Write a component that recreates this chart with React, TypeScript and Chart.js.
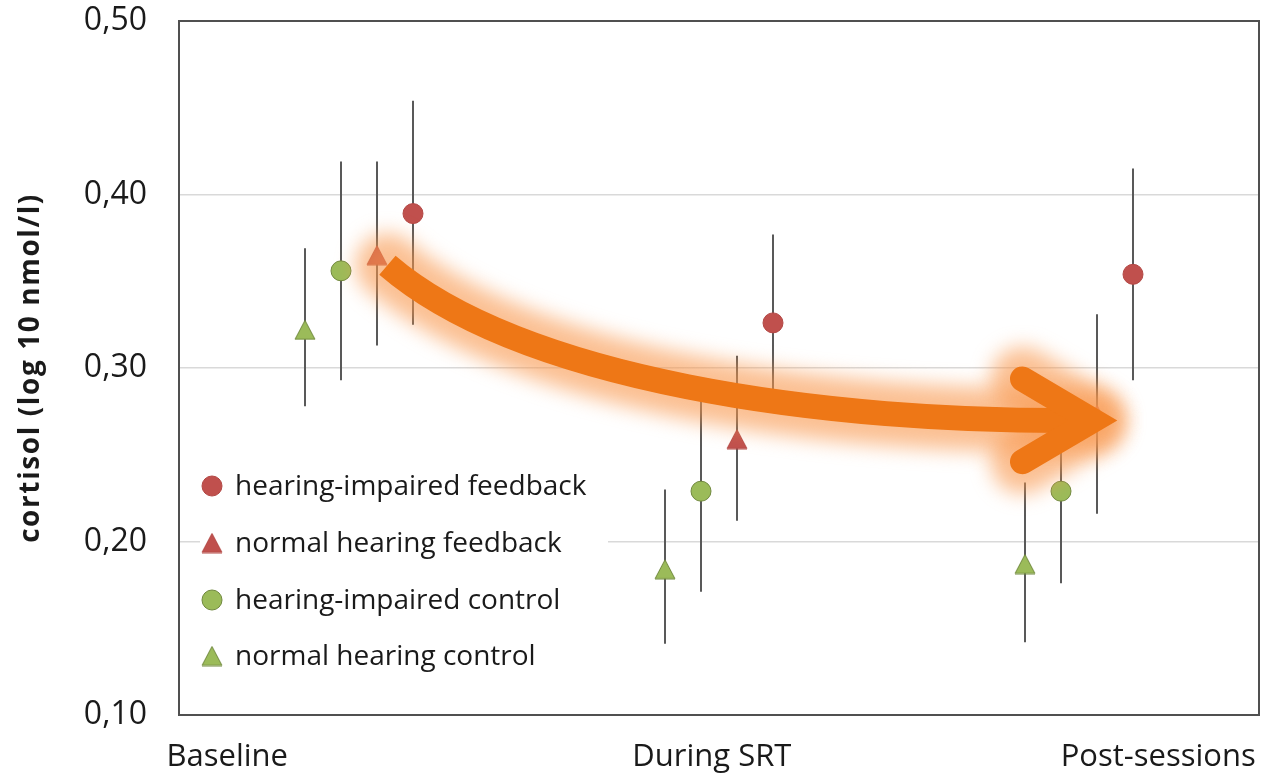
import React, { useEffect, useRef } from 'react';
import { Chart, registerables } from 'chart.js';

Chart.register(...registerables);

// ---------- data ----------
const categories = ['Baseline', 'During SRT', 'Post-sessions'];
const categoryLabelPos = [0.134, 1.48, 2.72];
const groupPos = [0.5, 1.5, 2.5];

const seriesLabels = [
  'hearing-impaired feedback',
  'normal hearing feedback',
  'hearing-impaired control',
  'normal hearing control',
];
const seriesOffset = [0.15, 0.05, -0.05, -0.15];

const hiFeedbackMean = [0.389, 0.326, 0.354];
const hiFeedbackLow = [0.325, 0.277, 0.293];
const hiFeedbackHigh = [0.454, 0.377, 0.415];

const nhFeedbackMean = [0.365, 0.259, 0.273];
const nhFeedbackLow = [0.313, 0.212, 0.216];
const nhFeedbackHigh = [0.419, 0.307, 0.331];

const hiControlMean = [0.356, 0.229, 0.229];
const hiControlLow = [0.293, 0.171, 0.176];
const hiControlHigh = [0.419, 0.287, 0.282];

const nhControlMean = [0.322, 0.184, 0.187];
const nhControlLow = [0.278, 0.141, 0.142];
const nhControlHigh = [0.369, 0.230, 0.234];

const yMin = 0.1;
const yMax = 0.5;
const yStep = 0.1;
const yTitle = 'cortisol (log 10 nmol/l)';

// annotation arrow (data units): cubic curve + chevron head
const arrowCurve = [
  [0.579, 0.3592],
  [0.946, 0.2937],
  [1.781, 0.2678],
  [2.538, 0.2698],
];
const arrowHead = [
  [2.343, 0.2937],
  [2.538, 0.2698],
  [2.343, 0.246],
];

const FONT = '"Open Sans", "Noto Sans", sans-serif';
const RED = '#C0504D';
const RED_BORDER = '#B34845';
const GREEN = '#9BBB59';
const GREEN_BORDER = '#71893F';

function makeTriangle(fill: string, stroke: string) {
  const c = document.createElement('canvas');
  c.width = 22;
  c.height = 21;
  const g = c.getContext('2d')!;
  g.beginPath();
  g.moveTo(11, 1);
  g.lineTo(21, 20);
  g.lineTo(1, 20);
  g.closePath();
  g.fillStyle = fill;
  g.fill();
  g.lineWidth = 1;
  g.strokeStyle = stroke;
  g.stroke();
  return c;
}

const boxPlugin = {
  id: 'plotBox',
  beforeDatasetsDraw(chart: any) {
    const { ctx, chartArea: a } = chart;
    ctx.save();
    ctx.strokeStyle = '#505050';
    ctx.lineWidth = 2;
    ctx.strokeRect(a.left, a.top, a.right - a.left, a.bottom - a.top);
    // spaced y-axis title
    ctx.translate(31, (a.top + a.bottom) / 2);
    ctx.rotate(-Math.PI / 2);
    ctx.font = `bold 28px ${FONT}`;
    (ctx as any).letterSpacing = '1.6px';
    ctx.fillStyle = '#1a1a1a';
    ctx.textAlign = 'center';
    ctx.textBaseline = 'middle';
    ctx.fillText(yTitle, 0, 0);
    ctx.restore();
  },
};

const errorBarPlugin = {
  id: 'errorBars',
  beforeDatasetsDraw(chart: any) {
    const { ctx } = chart;
    const y = chart.scales.y;
    ctx.save();
    ctx.strokeStyle = '#595959';
    ctx.lineWidth = 2;
    chart.data.datasets.forEach((ds: any, i: number) => {
      const meta = chart.getDatasetMeta(i);
      meta.data.forEach((pt: any, j: number) => {
        ctx.beginPath();
        ctx.moveTo(pt.x, y.getPixelForValue(ds.errLow[j]));
        ctx.lineTo(pt.x, y.getPixelForValue(ds.errHigh[j]));
        ctx.stroke();
      });
    });
    ctx.restore();
  },
};

const legendPlugin = {
  id: 'insideLegend',
  afterDatasetsDraw(chart: any) {
    const { ctx, chartArea: a } = chart;
    ctx.save();
    ctx.fillStyle = '#ffffff';
    ctx.fillRect(a.left + 21, a.top + 434, 408, 236);
    const rows = [465, 522, 579, 635];
    ctx.font = `28px ${FONT}`;
    ctx.textBaseline = 'middle';
    ctx.textAlign = 'left';
    chart.data.datasets.forEach((ds: any, i: number) => {
      const cy = a.top + rows[i];
      const cx = a.left + 33;
      const st = ds.pointStyle;
      if (st && typeof st !== 'string') {
        ctx.drawImage(st, cx - st.width / 2, cy - st.height / 2);
      } else {
        ctx.beginPath();
        ctx.arc(cx, cy, ds.pointRadius, 0, Math.PI * 2);
        ctx.fillStyle = ds.backgroundColor;
        ctx.fill();
        ctx.lineWidth = 1;
        ctx.strokeStyle = ds.borderColor;
        ctx.stroke();
      }
      ctx.fillStyle = '#1a1a1a';
      ctx.fillText(ds.label, a.left + 56, cy + 1);
    });
    ctx.restore();
  },
};

const arrowPlugin = {
  id: 'arrow',
  afterDatasetsDraw(chart: any) {
    const { ctx } = chart;
    const { x, y } = chart.scales;
    const P = (p: number[]) => [x.getPixelForValue(p[0]), y.getPixelForValue(p[1])];
    const c = arrowCurve.map(P);
    const h = arrowHead.map(P);
    const drawCurve = () => {
      ctx.beginPath();
      ctx.moveTo(c[0][0], c[0][1]);
      ctx.bezierCurveTo(c[1][0], c[1][1], c[2][0], c[2][1], c[3][0], c[3][1]);
    };
    const drawHead = () => {
      ctx.beginPath();
      ctx.moveTo(h[0][0], h[0][1]);
      ctx.lineTo(h[1][0], h[1][1]);
      ctx.lineTo(h[2][0], h[2][1]);
    };
    ctx.save();
    // glow
    ctx.filter = 'blur(10px)';
    ctx.strokeStyle = 'rgba(248,150,75,0.6)';
    ctx.lineWidth = 64;
    ctx.lineCap = 'round';
    ctx.lineJoin = 'round';
    drawCurve();
    ctx.stroke();
    drawHead();
    ctx.stroke();
    ctx.filter = 'none';
    // main stroke
    ctx.strokeStyle = '#EE7716';
    ctx.lineWidth = 25;
    ctx.lineCap = 'butt';
    drawCurve();
    ctx.stroke();
    ctx.lineCap = 'round';
    ctx.lineJoin = 'miter';
    ctx.miterLimit = 10;
    drawHead();
    ctx.stroke();
    ctx.restore();
  },
};

export default function App() {
  const ref = useRef<HTMLCanvasElement | null>(null);

  useEffect(() => {
    if (!ref.current) return;
    const redTri = makeTriangle(RED, RED_BORDER);
    const greenTri = makeTriangle(GREEN, GREEN_BORDER);

    const series = [
      { mean: hiFeedbackMean, low: hiFeedbackLow, high: hiFeedbackHigh, style: 'circle', fill: RED, border: RED_BORDER },
      { mean: nhFeedbackMean, low: nhFeedbackLow, high: nhFeedbackHigh, style: redTri, fill: RED, border: RED_BORDER },
      { mean: hiControlMean, low: hiControlLow, high: hiControlHigh, style: 'circle', fill: GREEN, border: GREEN_BORDER },
      { mean: nhControlMean, low: nhControlLow, high: nhControlHigh, style: greenTri, fill: GREEN, border: GREEN_BORDER },
    ];

    const datasets = series.map((s, i) => ({
      label: seriesLabels[i],
      data: s.mean.map((v, j) => ({ x: groupPos[j] + seriesOffset[i], y: v })),
      errLow: s.low,
      errHigh: s.high,
      pointStyle: s.style as any,
      pointRadius: 10,
      pointHoverRadius: 10,
      backgroundColor: s.fill,
      borderColor: s.border,
      borderWidth: 1,
      showLine: false,
    }));

    const chart = new Chart(ref.current, {
      type: 'scatter',
      data: { datasets: datasets as any },
      options: {
        animation: false,
        responsive: false,
        layout: { autoPadding: false, padding: { top: 21, right: 4, left: 0, bottom: 0 } },
        plugins: {
          legend: { display: false },
          tooltip: { enabled: false },
        },
        scales: {
          x: {
            type: 'linear',
            min: 0,
            max: 3,
            afterBuildTicks: (s: any) => {
              s.ticks = categoryLabelPos.map((v) => ({ value: v }));
            },
            afterFit: (s: any) => {
              s.height = 60;
              s.paddingLeft = 0;
              s.paddingRight = 0;
            },
            grid: { display: false },
            border: { display: false },
            ticks: {
              autoSkip: false,
              maxRotation: 0,
              minRotation: 0,
              padding: 16,
              color: '#1a1a1a',
              font: { family: FONT, size: 31 },
              callback: (_v: any, i: number) => categories[i],
            },
          },
          y: {
            min: yMin,
            max: yMax,
            afterFit: (s: any) => {
              s.width = 179;
              s.paddingTop = 0;
              s.paddingBottom = 0;
            },
            grid: { color: '#D9D9D9', lineWidth: 1.5, drawTicks: false },
            border: { display: false },
            ticks: {
              stepSize: yStep,
              padding: 32,
              color: '#1a1a1a',
              font: { family: FONT, size: 32 },
              callback: (v: any) => Number(v).toFixed(2).replace('.', ','),
            },
            title: { display: false },
          },
        },
      },
      plugins: [boxPlugin, errorBarPlugin, legendPlugin, arrowPlugin],
    });
    return () => chart.destroy();
  }, []);

  return (
    <div style={{ position: 'fixed', left: 0, top: 0, width: 1263, height: 775, background: '#fff' }}>
      <canvas ref={ref} width={1263} height={775} />
    </div>
  );
}
